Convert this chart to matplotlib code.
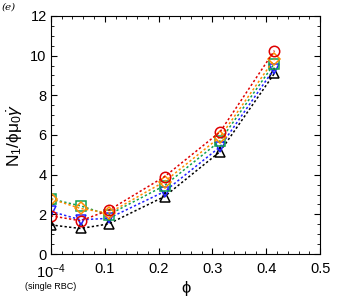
import matplotlib
matplotlib.use('Agg')
import matplotlib.pyplot as plt
from matplotlib.ticker import MultipleLocator

plt.rcParams['font.family'] = ['Liberation Sans', 'DejaVu Sans']
plt.rcParams['mathtext.fontset'] = 'custom'
plt.rcParams['mathtext.rm'] = 'Liberation Sans'
plt.rcParams['mathtext.it'] = 'Liberation Sans:italic'

phi = [0.0, 0.055, 0.107, 0.211, 0.314, 0.415]
black = [1.47, 1.29, 1.52, 2.90, 5.16, 9.10]
blue = [2.15, 1.73, 1.80, 3.15, 5.40, 9.35]
green = [2.78, 2.43, 1.98, 3.45, 5.70, 9.60]
orange = [2.78, 2.30, 2.06, 3.65, 5.90, 9.82]
red = [1.93, 1.68, 2.20, 3.90, 6.15, 10.25]

series = [
    (black, 'black', '^'),
    (blue, '#2020ff', 'v'),
    (green, '#10a050', 's'),
    (orange, '#ff8c00', 'D'),
    (red, '#e00000', 'o'),
]

fig = plt.figure(figsize=(3.37, 3.0), dpi=100)
ax = fig.add_axes([0.151, 0.153, 0.799, 0.794])

for vals, col, mk in series:
    ax.plot(phi, vals, linestyle=(0, (1.5, 1.5)), color=col, lw=1.1,
            marker=mk, ms=7.5 if mk != 'D' else 6.5, mfc='none', mec=col, mew=1.1)

ax.set_xlim(0, 0.5)
ax.set_ylim(0, 12)
ax.set_xticks([0, 0.1, 0.2, 0.3, 0.4, 0.5])
ax.set_xticklabels(['10$^{\\mathregular{-4}}$', '0.1', '0.2', '0.3', '0.4', '0.5'])
ax.set_yticks([0, 2, 4, 6, 8, 10, 12])
ax.xaxis.set_minor_locator(MultipleLocator(0.02))
ax.yaxis.set_minor_locator(MultipleLocator(0.5))
ax.tick_params(which='both', direction='in', top=True, right=True, labelsize=10.5)
ax.tick_params(which='major', length=4)
ax.tick_params(which='minor', length=2)
ax.tick_params(axis='x', pad=6)
ax.tick_params(axis='y', pad=3)

ax.text(0.0, -1.42, '(single RBC)', fontsize=6.5, ha='center', va='top')
ax.set_xlabel('ϕ', fontsize=12, labelpad=0)
ax.set_ylabel(r'N$_1$/ϕμ$_0\dot{\gamma}$', fontsize=12.5, labelpad=4)
fig.text(0.005, 0.99, '(e)', fontsize=7.5, style='italic', family='DejaVu Serif', va='top')

fig.savefig('out.png', dpi=100)
